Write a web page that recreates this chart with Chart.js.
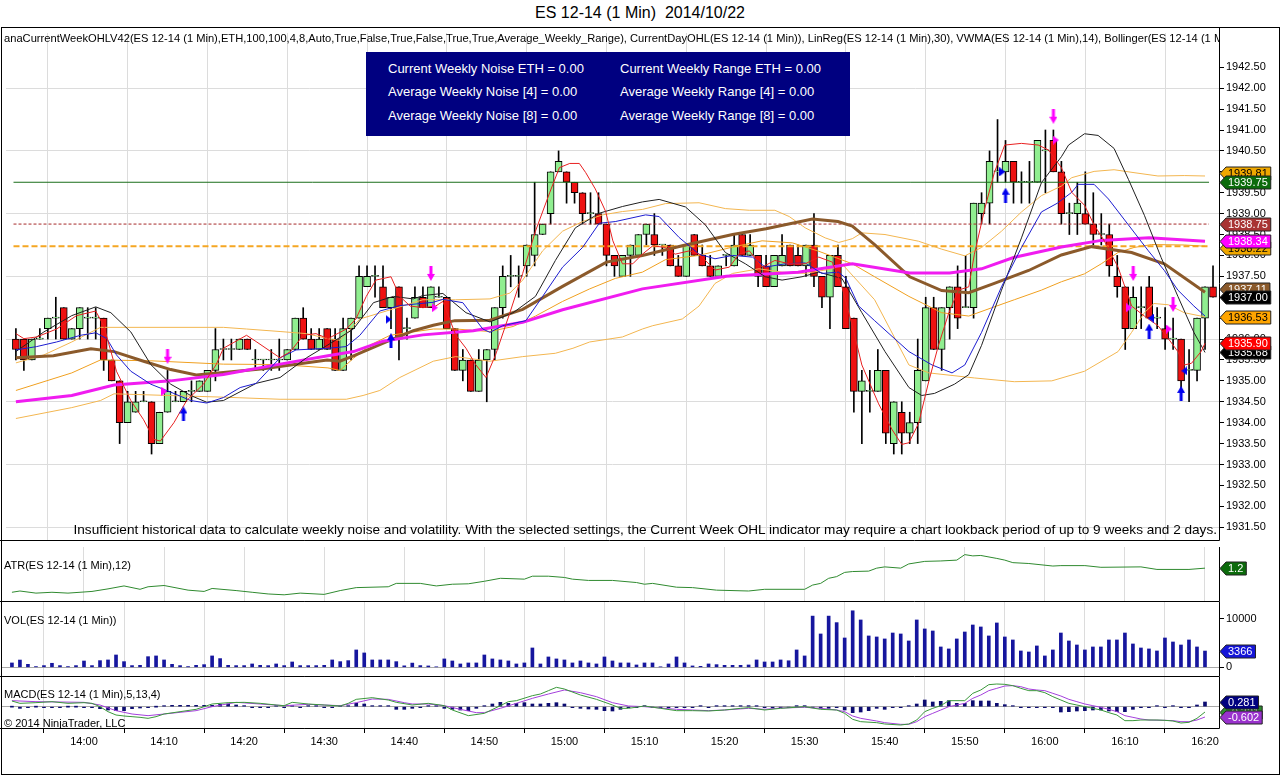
<!DOCTYPE html>
<html>
<head>
<meta charset="utf-8">
<title>ES 12-14 (1 Min) 2014/10/22</title>
<script src="https://cdn.jsdelivr.net/npm/chart.js@4.4.0/dist/chart.umd.min.js"></script>
<style>
  html, body { margin: 0; padding: 0; background: #fff; }
  body { width: 1280px; height: 775px; position: relative; overflow: hidden;
         font-family: "Liberation Sans", Arial, sans-serif; color: #000; }
  canvas { position: absolute; left: 0; }
  .txt { position: absolute; white-space: pre; font-size: 11px; line-height: 14px; }
  #frame { position: absolute; left: 1px; top: 27px; width: 1279px; height: 748px;
           box-sizing: border-box; border: 1px solid #000; }
  #title { left: 0; top: 4px; width: 1280px; text-align: center; font-size: 16px; line-height: 18px; }
  #studies { left: 4px; top: 31px; width: 1215px; overflow: hidden; font-size: 11.15px; }
  #navy { position: absolute; left: 366px; top: 52px; width: 484px; height: 84px; background: #000080; }
  #navy .txt { color: #fff; font-size: 13px; line-height: 16px; }
  #insufficient { right: 63px; top: 522px; font-size: 13.6px; line-height: 16px; }
</style>
</head>
<body>
<div id="frame"></div>
<canvas id="main" width="1280" height="520" style="top:27px"></canvas>
<canvas id="atr" width="1280" height="55" style="top:547px"></canvas>
<canvas id="vol" width="1280" height="75" style="top:602px"></canvas>
<canvas id="macd" width="1280" height="98" style="top:677px"></canvas>

<div class="txt" id="title">ES 12-14 (1 Min)  2014/10/22</div>
<div class="txt" id="studies">anaCurrentWeekOHLV42(ES 12-14 (1 Min),ETH,100,100,4,8,Auto,True,False,True,False,True,True,Average_Weekly_Range), CurrentDayOHL(ES 12-14 (1 Min)), LinReg(ES 12-14 (1 Min),30), VWMA(ES 12-14 (1 Min),14), Bollinger(ES 12-14 (1 Min),2,14)</div>
<div id="navy">
  <div class="txt" style="left:22px;top:9px">Current Weekly Noise ETH = 0.00</div>
  <div class="txt" style="left:254px;top:9px">Current Weekly Range ETH = 0.00</div>
  <div class="txt" style="left:22px;top:32px">Average Weekly Noise [4] = 0.00</div>
  <div class="txt" style="left:254px;top:32px">Average Weekly Range [4] = 0.00</div>
  <div class="txt" style="left:22px;top:56px">Average Weekly Noise [8] = 0.00</div>
  <div class="txt" style="left:254px;top:56px">Average Weekly Range [8] = 0.00</div>
</div>
<div class="txt" id="insufficient">Insufficient historical data to calculate weekly noise and volatility. With the selected settings, the Current Week OHL indicator may require a chart lookback period of up to 9 weeks and 2 days.</div>
<div class="txt" style="left:4px;top:558px">ATR(ES 12-14 (1 Min),12)</div>
<div class="txt" style="left:4px;top:613px">VOL(ES 12-14 (1 Min))</div>
<div class="txt" style="left:4px;top:687px">MACD(ES 12-14 (1 Min),5,13,4)</div>
<div class="txt" style="left:4px;top:716px">© 2014 NinjaTrader, LLC</div>

<script>
// ---- data (minutes relative to 14:00, first bar is 13:51) ----
const firstMinute = -9;

const opens = [
  1936.0, 1936.0, 1935.5, 1936.0, 1936.25, 1936.5, 1936.75, 1936.0, 1936.25,
  1936.5, 1936.5, 1936.5, 1935.5, 1935.0, 1934.0, 1934.25, 1934.5, 1934.5, 1933.5,
  1934.25, 1934.5, 1934.5, 1934.75, 1934.75, 1934.75, 1935.25, 1935.75, 1935.75, 1935.75,
  1936.0, 1935.5, 1935.5, 1935.5, 1935.5, 1935.5, 1935.75, 1936.5, 1936.0, 1935.75,
  1936.25, 1936.0, 1935.25, 1936.25, 1936.5, 1937.25, 1937.5, 1937.25, 1936.75, 1937.25,
  1936.25, 1936.5, 1937.0, 1936.75, 1937.0, 1937.0, 1936.25, 1935.25, 1935.5, 1934.75,
  1935.5, 1935.75, 1936.75, 1937.5, 1937.5, 1937.75, 1938.0, 1938.5, 1939.0, 1940.0,
  1940.0, 1939.75, 1939.5, 1939.0, 1939.0, 1938.75, 1938.0, 1937.5, 1938.0, 1938.0,
  1938.5, 1938.5, 1938.25, 1938.25, 1937.75, 1937.5, 1938.5, 1938.0, 1937.75, 1937.5,
  1938.0, 1937.75, 1938.5, 1938.0, 1938.0, 1937.75, 1937.25, 1937.75, 1938.25, 1938.0,
  1937.75, 1938.25, 1937.5, 1937.0, 1938.0, 1937.25, 1936.5, 1934.75, 1934.75, 1934.75,
  1935.25, 1933.5, 1934.25, 1933.75, 1934.0, 1935.0, 1936.75, 1935.75, 1936.75, 1937.25,
  1936.75, 1936.75, 1939.0, 1939.25, 1940.0, 1940.0, 1940.25, 1939.75, 1939.75, 1939.75,
  1940.5, 1940.75, 1940.0, 1939.0, 1939.0, 1939.0, 1938.75, 1938.5, 1938.5, 1937.5,
  1937.25, 1936.25, 1936.75, 1937.25, 1936.5, 1936.25, 1936.0, 1936.0, 1935.25, 1935.25,
  1936.5, 1937.25
];
const highs = [
  1936.25, 1936.0, 1936.0, 1936.25, 1936.5, 1937.0, 1936.75, 1936.25, 1936.75,
  1936.75, 1936.75, 1936.5, 1935.5, 1935.0, 1934.75, 1934.75, 1934.75, 1934.5, 1934.25,
  1935.25, 1934.75, 1934.75, 1935.0, 1935.0, 1935.25, 1936.25, 1936.0, 1936.0, 1936.0,
  1936.0, 1935.75, 1935.5, 1935.75, 1936.0, 1935.75, 1936.5, 1936.75, 1936.25, 1936.25,
  1936.25, 1936.25, 1936.5, 1936.5, 1937.75, 1937.75, 1937.75, 1937.75, 1937.0, 1937.25,
  1936.5, 1937.25, 1937.25, 1937.25, 1937.25, 1937.0, 1936.25, 1935.75, 1935.5, 1935.75,
  1935.75, 1936.75, 1937.75, 1938.0, 1937.75, 1938.25, 1939.75, 1938.75, 1940.0, 1940.5,
  1940.0, 1939.75, 1939.5, 1939.5, 1939.5, 1938.75, 1938.0, 1938.0, 1938.25, 1938.5,
  1938.75, 1939.0, 1938.25, 1938.25, 1938.0, 1938.25, 1938.5, 1938.25, 1938.0, 1937.75,
  1938.0, 1938.5, 1938.5, 1938.5, 1938.0, 1938.0, 1938.0, 1938.5, 1938.25, 1938.25,
  1938.25, 1939.0, 1937.5, 1938.0, 1938.25, 1937.5, 1936.5, 1935.25, 1935.25, 1935.75,
  1935.25, 1934.5, 1934.5, 1934.25, 1936.0, 1937.0, 1937.0, 1936.75, 1937.25, 1937.75,
  1938.0, 1939.25, 1939.5, 1940.5, 1941.25, 1940.75, 1940.25, 1940.0, 1940.25, 1940.75,
  1941.0, 1941.0, 1940.25, 1939.25, 1939.75, 1940.0, 1939.5, 1939.0, 1938.75, 1938.0,
  1937.25, 1937.25, 1937.25, 1937.5, 1936.75, 1936.75, 1936.5, 1936.0, 1935.75, 1936.5,
  1937.25, 1937.75
];
const lows = [
  1935.5, 1935.25, 1935.5, 1936.0, 1936.0, 1936.0, 1936.0, 1936.0, 1936.0,
  1936.0, 1936.0, 1935.25, 1935.0, 1933.5, 1934.0, 1934.25, 1934.5, 1933.25, 1933.5,
  1934.25, 1934.5, 1934.5, 1934.5, 1934.75, 1934.75, 1935.0, 1935.5, 1935.5, 1935.75,
  1935.75, 1935.25, 1935.25, 1935.25, 1935.25, 1935.5, 1935.75, 1936.0, 1935.75, 1935.75,
  1935.75, 1935.25, 1935.25, 1935.5, 1936.5, 1937.25, 1937.0, 1936.75, 1936.25, 1935.5,
  1936.0, 1936.5, 1936.75, 1936.75, 1937.0, 1936.25, 1935.25, 1935.0, 1934.75, 1934.75,
  1934.5, 1935.5, 1936.5, 1937.25, 1937.0, 1937.5, 1937.75, 1938.5, 1938.75, 1940.0,
  1939.25, 1939.25, 1938.75, 1938.75, 1938.75, 1937.75, 1937.5, 1937.5, 1937.5, 1938.0,
  1938.25, 1938.0, 1938.0, 1937.75, 1937.5, 1937.5, 1938.0, 1937.75, 1937.5, 1937.5,
  1937.75, 1937.75, 1938.0, 1938.0, 1937.25, 1937.25, 1937.25, 1937.75, 1937.75, 1937.75,
  1937.5, 1937.25, 1936.75, 1936.25, 1937.25, 1936.25, 1934.25, 1933.5, 1934.25, 1934.75,
  1933.5, 1933.25, 1933.25, 1933.5, 1933.5, 1935.0, 1935.75, 1935.25, 1936.0, 1936.25,
  1936.75, 1936.5, 1938.75, 1938.75, 1939.75, 1939.75, 1939.25, 1939.25, 1939.25, 1939.75,
  1939.5, 1940.0, 1938.75, 1938.5, 1938.5, 1938.75, 1938.25, 1938.25, 1937.5, 1937.0,
  1935.75, 1936.25, 1936.25, 1936.5, 1936.25, 1935.75, 1935.75, 1934.75, 1934.5, 1935.0,
  1935.75, 1937.0
];
const closes = [
  1935.75, 1935.5, 1936.0, 1936.0, 1936.5, 1936.5, 1936.0, 1936.25, 1936.75,
  1936.5, 1936.5, 1935.5, 1935.0, 1934.0, 1934.5, 1934.5, 1934.5, 1933.5, 1934.25,
  1934.75, 1934.5, 1934.75, 1934.75, 1935.0, 1935.25, 1935.75, 1935.75, 1935.75, 1936.0,
  1935.75, 1935.5, 1935.5, 1935.5, 1935.5, 1935.75, 1936.5, 1936.0, 1935.75, 1936.0,
  1935.75, 1935.25, 1936.25, 1936.5, 1937.5, 1937.5, 1937.5, 1936.75, 1937.0, 1936.0,
  1936.25, 1937.0, 1936.75, 1937.25, 1937.0, 1936.25, 1935.25, 1935.5, 1934.75, 1935.5,
  1935.75, 1936.75, 1937.5, 1937.5, 1937.5, 1938.25, 1938.5, 1938.75, 1940.0, 1940.25,
  1939.75, 1939.5, 1939.0, 1939.0, 1938.75, 1938.0, 1937.75, 1938.0, 1938.25, 1938.5,
  1938.75, 1938.25, 1938.25, 1937.75, 1937.5, 1938.25, 1938.0, 1937.75, 1937.5, 1937.75,
  1938.0, 1938.25, 1938.0, 1938.25, 1937.5, 1937.25, 1938.0, 1938.0, 1937.75, 1937.75,
  1938.25, 1937.5, 1937.0, 1938.0, 1937.25, 1936.25, 1934.75, 1935.0, 1934.75, 1935.25,
  1933.75, 1934.5, 1933.75, 1934.0, 1935.25, 1936.75, 1935.75, 1936.75, 1937.25, 1936.5,
  1936.75, 1939.25, 1939.25, 1940.25, 1940.0, 1940.25, 1939.75, 1939.75, 1939.75, 1940.75,
  1940.5, 1940.0, 1939.0, 1939.0, 1939.25, 1938.75, 1938.5, 1938.5, 1937.75, 1937.25,
  1936.25, 1937.0, 1936.75, 1936.5, 1936.5, 1936.0, 1936.0, 1935.0, 1935.25, 1936.5,
  1937.25, 1937.0
];

// indicator plots, [minute, value]
const linRegLine = [[-9,1936.13],[-8,1936.01],[-6.4,1936.05],[-3.9,1936.24],[-1.4,1936.56],[1,1936.67],[2,1936.32],[3.6,1935.23],[5.4,1934.53],[7,1934.07],[8.3,1933.6],[9.1,1933.56],[10.8,1934.0],[12.4,1934.53],[14.5,1934.92],[16.1,1935.39],[17,1935.78],[19.9,1936.09],[21.1,1935.94],[24.1,1935.55],[25.4,1935.7],[27,1936.09],[28.6,1936.13],[30.1,1936.01],[32.4,1936.24],[33.6,1936.48],[34.9,1937.02],[36.1,1937.41],[38,1937.49],[39.1,1937.02],[40.4,1936.79],[42,1936.75],[43.6,1936.79],[44.5,1936.9],[46.1,1936.1],[47.4,1935.78],[48.6,1935.39],[49.9,1935.08],[51.1,1935.62],[52.9,1936.63],[54.5,1937.57],[56.1,1938.58],[57.9,1939.51],[59.1,1940.1],[60.4,1940.2],[61.6,1940.2],[62.4,1939.98],[63.6,1939.59],[64.9,1939.05],[65.8,1938.35],[67,1937.8],[68.3,1937.8],[69.5,1938.03],[70.8,1938.23],[72.4,1938.19],[73.6,1938.03],[75.4,1938.11],[76.6,1938.03],[78.6,1937.65],[80.4,1937.72],[81.6,1938.03],[82.9,1938.11],[84.5,1937.72],[86.1,1937.88],[87.9,1937.8],[89.9,1937.8],[91.6,1937.96],[93.3,1937.84],[94.5,1937.25],[95.8,1936.32],[97,1935.38],[99.1,1934.45],[100.8,1933.83],[102,1933.48],[102.9,1933.52],[104.1,1933.98],[105.4,1935.0],[106.6,1935.85],[107.9,1936.63],[109.1,1937.17],[110.4,1937.25],[111.1,1938.03],[112.4,1939.12],[113.6,1939.98],[114.9,1940.64],[117,1940.68],[119.1,1940.64],[120.4,1940.52],[122,1940.1],[123.3,1939.51],[124.9,1939.2],[126.1,1938.73],[127.4,1938.34],[129.1,1937.72],[130.8,1936.79],[132.4,1936.55],[134.1,1936.32],[135.4,1936.01],[136.6,1935.7],[137.4,1935.38],[138.3,1935.42],[139.5,1935.7],[140,1935.9]];
const vwmaLine = [[-9,1935.74],[-6.4,1935.82],[-3.9,1935.93],[-0.9,1936.09],[1,1936.15],[2.4,1936.01],[3.6,1935.62],[5.4,1935.23],[7.9,1934.92],[10.4,1934.73],[12.9,1934.53],[14.9,1934.47],[17,1934.6],[19.1,1934.84],[21.1,1934.94],[24.1,1935.55],[26.1,1935.74],[30.1,1935.78],[32.4,1935.82],[34.1,1936.09],[36.6,1936.67],[39.1,1936.8],[43.3,1936.88],[44.5,1936.95],[47,1936.87],[49.5,1936.24],[50.4,1936.16],[52,1936.32],[54.9,1936.44],[57,1937.02],[59.5,1937.72],[62,1938.19],[64.1,1938.77],[66.1,1938.81],[69.9,1938.97],[71.6,1938.93],[74.1,1938.43],[76.6,1938.03],[78.6,1937.92],[80.8,1938.0],[83.3,1937.96],[84.9,1937.72],[87.4,1937.8],[89.9,1937.82],[92,1937.57],[94.1,1937.6],[95,1937.45],[96.6,1936.79],[98.6,1936.44],[102.9,1935.7],[105.8,1935.38],[108.3,1935.19],[109.9,1935.38],[112,1936.16],[114.5,1937.25],[117,1938.19],[119.5,1939.04],[121.5,1939.25],[123.3,1939.51],[124.1,1939.7],[126.1,1939.7],[127.9,1939.35],[130.4,1938.73],[132.9,1938.11],[134.9,1937.64],[136.6,1937.17],[138.6,1936.79],[140,1936.55]];
const blackLine = [[-9,1935.7],[-5.5,1936.17],[-2,1936.56],[1,1936.77],[2.9,1936.63],[5.4,1936.17],[7.9,1935.39],[10.4,1934.92],[12.9,1934.65],[14.9,1934.49],[17,1934.53],[21.1,1934.94],[24.1,1935.08],[27.4,1935.55],[30.1,1935.86],[33.3,1936.24],[35.8,1936.87],[38.3,1937.02],[40.8,1936.96],[42,1937.04],[44.5,1937.09],[47.4,1936.63],[50.4,1936.41],[53.3,1936.63],[56.1,1937.02],[58.6,1937.88],[61.1,1938.66],[64.1,1939.01],[67,1939.17],[69.5,1939.28],[71.6,1939.34],[74.9,1939.16],[77.4,1938.73],[79.9,1938.07],[82.4,1937.8],[84.9,1937.49],[87,1937.41],[89.5,1937.49],[91.6,1937.6],[94.5,1937.45],[97,1936.63],[99.9,1935.7],[102.9,1934.84],[104.5,1934.65],[106.1,1934.7],[108.6,1934.92],[110.4,1935.15],[112,1935.85],[114.5,1937.17],[117,1938.42],[119.5,1939.74],[122,1940.36],[122.9,1940.64],[124.9,1940.91],[126.6,1940.87],[128.6,1940.56],[130.4,1939.82],[132.4,1938.96],[134.5,1937.95],[136.6,1937.02],[138.6,1936.16],[140,1935.68]];
const brownLine = [[-9,1935.55],[-4.3,1935.6],[0.4,1935.77],[3.3,1935.7],[7,1935.47],[10.4,1935.27],[13.6,1935.14],[17,1935.2],[22,1935.29],[30,1935.5],[31.6,1935.47],[33.3,1935.6],[37.4,1935.93],[40.8,1936.2],[43.3,1936.33],[46,1936.44],[50.4,1936.45],[54.5,1936.71],[59.5,1937.26],[65,1937.84],[69.5,1938.0],[74.5,1938.23],[80.8,1938.5],[85,1938.64],[90.8,1938.87],[94,1938.81],[95.8,1938.7],[98.6,1938.26],[103,1937.49],[107,1937.16],[110.4,1937.11],[113.6,1937.33],[117.9,1937.64],[122,1938.01],[125.8,1938.21],[130.8,1938.07],[134.9,1937.8],[140,1937.12]];
const magentaLine = [[-9,1934.5],[-2,1934.65],[3.3,1934.9],[10.4,1935.0],[17,1935.15],[24.1,1935.4],[30.1,1935.6],[33.3,1935.7],[37,1935.95],[42,1936.1],[48.3,1936.2],[54.5,1936.4],[59.5,1936.7],[69.5,1937.2],[80,1937.5],[89,1937.6],[95.8,1937.8],[103,1937.58],[108,1937.58],[112,1937.68],[116,1937.95],[122,1938.2],[127,1938.36],[133,1938.42],[140,1938.34]];
const bandUpper = [[-9,1935.43],[-5.5,1935.62],[-2,1935.93],[1.6,1936.28],[17,1936.28],[19.9,1936.24],[24.1,1936.18],[27.4,1936.13],[30.1,1936.01],[31.6,1935.97],[34.1,1936.48],[37.4,1936.67],[42,1936.94],[46.1,1936.94],[50.4,1936.96],[52.9,1937.1],[54.5,1937.41],[57,1938.11],[59.5,1938.58],[62,1938.81],[64.5,1938.97],[67,1939.05],[69.5,1939.1],[72.4,1939.24],[76.6,1939.26],[79.9,1939.12],[82.9,1939.08],[86.1,1939.08],[87.9,1938.93],[89.9,1938.66],[92.4,1938.42],[94.1,1938.31],[95.8,1938.4],[97,1938.54],[99.9,1938.5],[104.1,1938.34],[107,1938.15],[109.9,1937.99],[112,1938.19],[114.5,1938.58],[117,1939.04],[119.5,1939.43],[122,1939.66],[123.3,1939.86],[126.1,1940.01],[128.6,1940.05],[131.1,1939.98],[134.1,1939.9],[137.4,1939.91],[140,1939.9]];
const bandMiddle = [[-9,1934.77],[-2,1935.19],[1.6,1935.5],[7.9,1935.48],[17,1935.4],[24.1,1935.39],[30.1,1935.31],[31.6,1935.25],[33.3,1935.54],[35.4,1935.86],[37.9,1936.09],[43.3,1936.24],[46.1,1936.24],[50.4,1936.18],[53.3,1936.3],[56.1,1936.55],[59.5,1936.9],[62.9,1937.2],[66.1,1937.45],[69.5,1937.6],[72.4,1937.9],[76.6,1938.0],[80.8,1938.2],[84.5,1938.35],[88.3,1938.3],[91.6,1938.1],[95.8,1937.8],[98.6,1937.49],[102.9,1937.02],[107,1936.63],[110.4,1936.55],[113.3,1936.75],[116.1,1936.94],[119.5,1937.17],[122,1937.37],[124.9,1937.56],[127,1937.8],[129.1,1938.07],[131.1,1938.19],[133.3,1938.26],[137.4,1938.25],[140,1938.22]];
const bandLower = [[-9,1934.1],[-2,1934.36],[1.6,1934.53],[3.3,1934.69],[17,1934.61],[24.1,1934.56],[32.4,1934.56],[34.5,1934.65],[36.6,1934.77],[39.1,1935.08],[43.3,1935.47],[46.1,1935.58],[50.4,1935.47],[54.5,1935.58],[58.6,1935.66],[60.8,1935.78],[62.9,1935.93],[67,1936.05],[69.5,1936.24],[70.8,1936.32],[74.5,1936.48],[76.6,1936.79],[78.6,1937.33],[80.8,1937.57],[84.1,1937.68],[87,1937.6],[89.9,1937.57],[93.3,1937.68],[94.5,1937.8],[98.6,1936.94],[102.9,1935.38],[105.4,1935.19],[111.1,1935.07],[116.1,1934.98],[120.8,1935.0],[124.9,1935.23],[129.1,1935.7],[130.8,1936.16],[132.4,1936.63],[133.6,1936.85],[135.4,1936.82],[137.4,1936.63],[140,1936.53]];

// weekly / daily levels
const levelWeekHigh = 1939.75;
const levelDayOpen = 1938.75;
const levelAverage = 1938.22;
const levelSpan = [-9.3, 140.5];

// signal arrows, [minute, price]
const downArrows = [[10,1935.59],[43,1937.57],[121,1941.33],[131,1937.57],[136,1936.83]];
const upArrows = [[12,1934.21],[38,1935.96],[115,1939.44],[133,1936.19],[137,1934.7]];
const magentaMarks = [[9.6,1934.75],[43.5,1936.75],[121.3,1940.76],[130.5,1936.75],[135.5,1936.24]];
const blueMarksRight = [[37.7,1936.47],[114.6,1940.0]];
const blueMarksLeft = [[133.2,1936.5],[137.4,1935.24]];

// lower panels, one value per bar from 13:51 to 16:20
const volumes = [
  900, 1500, 620, 150, 350, 830, 350, 150, 350,
  1300, 350, 1380, 1520, 2550, 1170, 350, 410, 2200, 2350,
  1520, 620, 350, 150, 410, 550, 2350, 1800, 410, 350,
  350, 690, 410, 350, 690, 350, 1100, 350, 350, 350,
  410, 1520, 1170, 1380, 3590, 2970, 1520, 1520, 1520, 1170,
  300, 870, 350, 280, 100, 1730, 1310, 690, 900, 900,
  2550, 1730, 1520, 1310, 690, 900, 4000, 690, 2140, 1730,
  1520, 900, 1310, 900, 690, 2140, 1310, 900, 900, 480,
  900, 900, 100, 690, 2140, 900, 280, 200, 690, 550,
  410, 410, 410, 480, 1520, 1100, 1100, 1520, 1350, 3590,
  2350, 10600, 6900, 10600, 9250, 6070, 11700, 9800, 6490, 6280,
  5870, 7100, 6900, 5450, 9800, 7940, 7520, 4210, 3800, 5870,
  7310, 8760, 8350, 6490, 9180, 6280, 5660, 3380, 3170, 4420,
  2350, 3590, 7100, 5450, 4620, 3590, 4210, 4210, 5660, 5660,
  7100, 4830, 4000, 3800, 3380, 6070, 5240, 4620, 5660, 4210,
  3366
];
const macdDiff = [
  0, -0.1, -0.04, 0, -0.05, -0.05, -0.05, 0, 0,
  -0.03, -0.04, -0.12, -0.2, -0.24, -0.24, -0.12, -0.08, -0.04, 0,
  0.06, 0.08, 0.08, 0.08, 0.08, 0.08, 0.08, 0.14, 0.16, 0.1,
  0.03, -0.03, -0.03, -0.03, 0.03, -0.03, 0.05, -0.03, 0.03, 0.03,
  -0.04, -0.04, 0.03, 0.05, 0.2, 0.16, 0.06, 0.03, 0.03, -0.16,
  -0.16, -0.1, -0.05, 0.03, 0.03, -0.1, -0.16, -0.2, -0.24, -0.1,
  0.03, 0.16, 0.26, 0.2, 0.2, 0.24, 0.16, 0.16, 0.2, 0.24,
  0.16, -0.04, -0.1, -0.14, -0.16, -0.24, -0.26, -0.16, -0.06, -0.03,
  0.03, -0.03, -0.03, -0.03, -0.06, -0.03, -0.03, 0.03, -0.04, 0.03,
  0.04, 0.04, 0.06, 0.06, 0.04, -0.03, -0.06, -0.03, -0.04, 0.03,
  0.06, -0.03, -0.1, -0.1, -0.04, -0.2, -0.36, -0.32, -0.24, -0.1,
  -0.16, -0.06, -0.06, 0.03, 0.16, 0.4, 0.28, 0.32, 0.36, 0.2,
  0.2, 0.36, 0.34, 0.34, 0.2, 0.12, 0.03, -0.06, -0.06, -0.04,
  -0.04, -0.06, -0.32, -0.3, -0.26, -0.24, -0.2, -0.2, -0.26, -0.3,
  -0.3, -0.16, -0.04, -0.04, 0.03, -0.06, 0.03, -0.06, -0.06, 0.1,
  0.28
];
const atrLine = [[-9,0.63],[-8,0.66],[-6,0.61],[-4,0.63],[-2,0.61],[1,0.65],[3,0.71],[5,0.78],[7,0.7],[8,0.76],[10,0.79],[13,0.68],[15,0.65],[16,0.72],[19,0.67],[21,0.63],[23,0.59],[25,0.57],[27,0.61],[30,0.58],[32,0.67],[34,0.74],[38,0.76],[39,0.84],[42,0.84],[44,0.78],[46,0.82],[48,0.83],[50,0.89],[52,0.96],[55,0.94],[56,1.01],[58,1.01],[60,0.98],[61,0.94],[63,0.91],[66,0.91],[69,0.86],[70,0.82],[71,0.84],[74,0.75],[76,0.74],[79,0.68],[83,0.66],[85,0.7],[90,0.7],[91,0.8],[92,0.84],[93,0.96],[94,1.0],[95,1.1],[96,1.12],[98,1.13],[99,1.2],[100,1.23],[102,1.2],[103,1.3],[105,1.36],[107,1.37],[109,1.39],[110,1.52],[111,1.49],[112,1.5],[114,1.43],[115,1.39],[116,1.33],[118,1.31],[121,1.25],[122,1.26],[125,1.26],[127,1.22],[132,1.23],[134,1.17],[138,1.17],[140,1.2]];
const macdLine = [[-9,0.34],[-8,0.2],[-6,0.24],[-4,0.3],[-2,0.2],[0,0.24],[1,0.2],[2,0],[3,-0.3],[4,-0.5],[5,-0.56],[6,-0.6],[7,-0.64],[8,-0.7],[9,-0.6],[10,-0.44],[12,-0.3],[14,-0.16],[16,0.16],[18,0.24],[20,0.26],[22,0.2],[24,0.1],[25,0.06],[26,0.26],[28,0.16],[30,0.1],[32,0.04],[33,0.2],[34,0.44],[36,0.54],[38,0.4],[39,0.26],[41,0.1],[43,0.2],[45,0.06],[46,-0.2],[48,-0.54],[50,-0.4],[52,0.06],[53,0.3],[54,0.36],[56,0.66],[57,0.76],[58,0.96],[59,1.16],[60,1.06],[62,0.7],[64,0.44],[66,0.1],[67,-0.1],[68,-0.1],[70,0.04],[72,-0.1],[74,-0.24],[76,-0.24],[78,-0.26],[80,-0.2],[82,-0.1],[83,-0.06],[85,-0.2],[87,-0.1],[90,0],[92,-0.16],[94,-0.2],[95,-0.4],[96,-0.76],[97,-0.9],[99,-0.96],[100,-1.04],[102,-1.1],[103,-1.04],[104,-0.8],[105,-0.3],[106,-0.1],[107,0.06],[108,0.36],[110,0.36],[111,0.8],[112,1.0],[113,1.32],[114,1.36],[115,1.34],[116,1.26],[117,1.1],[118,0.96],[119,0.96],[120,0.84],[121,0.6],[122,0.4],[123,0.2],[124,0.1],[125,0],[126,-0.1],[127,-0.2],[128,-0.36],[129,-0.5],[130,-0.84],[131,-0.84],[132,-0.8],[134,-0.8],[135,-0.82],[136,-0.86],[137,-0.98],[138,-0.94],[139,-0.7],[140,-0.32]];
const macdAvg = [[-9,0.36],[-6,0.3],[0,0.26],[2,0.1],[4,-0.24],[6,-0.44],[8,-0.54],[10,-0.44],[12,-0.34],[14,-0.24],[16,0],[19,0.26],[22,0.16],[25,0.06],[28,0.14],[32,0.06],[34,0.24],[36,0.46],[38,0.44],[40,0.24],[41,0.16],[43,0.16],[45,0.06],[47,-0.16],[49,-0.36],[50,-0.36],[52,-0.1],[54,0.2],[56,0.5],[58,0.76],[60,1.0],[62,0.84],[64,0.6],[66,0.24],[68,0.04],[70,0],[74,-0.16],[78,-0.24],[80,-0.2],[83,-0.1],[85,-0.16],[87,-0.08],[90,-0.04],[92,-0.1],[94,-0.2],[95,-0.3],[96,-0.56],[97,-0.7],[99,-0.86],[100,-0.96],[102,-1.06],[103,-1.06],[104,-0.9],[105,-0.6],[106,-0.4],[107,-0.2],[108,0],[109,0.1],[110,0.2],[111,0.5],[112,0.7],[113,0.96],[114,1.1],[115,1.24],[116,1.26],[117,1.2],[118,1.06],[119,1.0],[120,0.96],[121,0.8],[122,0.64],[123,0.44],[124,0.3],[125,0.16],[126,0.06],[127,-0.04],[128,-0.16],[129,-0.3],[130,-0.54],[131,-0.64],[132,-0.74],[133,-0.8],[135,-0.82],[136,-0.84],[137,-0.9],[138,-0.9],[139,-0.8],[140,-0.62]];

// axis ticks
const timeTicks = [0, 10, 20, 30, 40, 50, 60, 70, 80, 90, 100, 110, 120, 130, 140];
const timeLabels = ['14:00','14:10','14:20','14:30','14:40','14:50','15:00','15:10','15:20','15:30','15:40','15:50','16:00','16:10','16:20'];
const priceTicks = [1931.5, 1932, 1932.5, 1933, 1933.5, 1934, 1934.5, 1935, 1935.5, 1936, 1936.5, 1937,
                    1937.5, 1938, 1938.5, 1939, 1939.5, 1940, 1940.5, 1941, 1941.5, 1942, 1942.5];
const priceGrid = [1931.5, 1933, 1934.5, 1936, 1937.5, 1939, 1940.5, 1942];
const volTicks = [0, 10000];

// ---- drawing ----
const FONT = '"Liberation Sans", Arial, sans-serif';
const X_MIN = -10.24, X_MAX = 141.75;
const AXIS_W = 61;
const UP = '#90ee90', DOWN = '#ee1111', GRID = '#dcdcdc';

const barMinutes = opens.map((_, i) => firstMinute + i);
const pts = arr => arr.map(p => ({ x: p[0], y: p[1] }));

function xAxis(withLabels) {
  return {
    type: 'linear', min: X_MIN, max: X_MAX, offset: false,
    afterBuildTicks: s => { s.ticks = timeTicks.map(v => ({ value: v })); },
    grid: { color: GRID, drawTicks: withLabels, tickLength: 4, tickColor: '#000' },
    border: { display: false },
    ticks: {
      display: withLabels, autoSkip: false, maxRotation: 0, padding: 2, color: '#000',
      font: { family: FONT, size: 11 },
      callback: (v, i) => timeLabels[i]
    },
    afterFit: s => { s.height = withLabels ? 46 : 0; s.paddingLeft = 0; s.paddingRight = 0; }
  };
}

function fixWidth(s) { s.width = AXIS_W; s.paddingTop = 0; s.paddingBottom = 0; }

const panelFrame = {
  id: 'panelFrame',
  afterDraw(chart) {
    const { ctx, chartArea: a } = chart;
    const r = Math.round(a.right) + 0.5, b = Math.round(a.bottom) - 0.5;
    ctx.save();
    ctx.strokeStyle = '#000';
    ctx.lineWidth = 1;
    ctx.beginPath();
    ctx.moveTo(0, b); ctx.lineTo(r, b);
    ctx.moveTo(r, 0); ctx.lineTo(r, b);
    ctx.stroke();
    ctx.restore();
  }
};

function drawTag(ctx, x, y, text, fill, ink) {
  ctx.font = '11px ' + FONT;
  const w = ctx.measureText(text).width + 5;
  const h = 13;
  ctx.beginPath();
  ctx.moveTo(x, y);
  ctx.lineTo(x + 6, y - h / 2);
  ctx.lineTo(x + 6 + w, y - h / 2);
  ctx.lineTo(x + 6 + w, y + h / 2);
  ctx.lineTo(x + 6, y + h / 2);
  ctx.closePath();
  ctx.fillStyle = fill;
  ctx.fill();
  ctx.strokeStyle = '#222';
  ctx.lineWidth = 1;
  ctx.stroke();
  ctx.fillStyle = ink;
  ctx.textAlign = 'left';
  ctx.textBaseline = 'middle';
  ctx.fillText(text, x + 8, y + 0.5);
}

const sideTags = {
  id: 'sideTags',
  afterDraw(chart, args, opts) {
    const y = chart.scales.y;
    const x0 = Math.round(chart.chartArea.right) + 1;
    chart.ctx.save();
    (opts.items || []).forEach(t => {
      drawTag(chart.ctx, x0, Math.round(y.getPixelForValue(Number(t.text))) + (t.dy || 0) + 0.5, t.text, t.fill, t.ink);
    });
    chart.ctx.restore();
  }
};

function arrowImage(color, down) {
  const c = document.createElement('canvas');
  c.width = 8; c.height = 15;
  const g = c.getContext('2d');
  g.fillStyle = color;
  g.beginPath();
  if (down) {
    g.moveTo(2.5, 0); g.lineTo(5.5, 0); g.lineTo(5.5, 8); g.lineTo(8, 8);
    g.lineTo(4, 15); g.lineTo(0, 8); g.lineTo(2.5, 8);
  } else {
    g.moveTo(2.5, 15); g.lineTo(5.5, 15); g.lineTo(5.5, 7); g.lineTo(8, 7);
    g.lineTo(4, 0); g.lineTo(0, 7); g.lineTo(2.5, 7);
  }
  g.closePath();
  g.fill();
  return c;
}

function triImage(color, right) {
  const c = document.createElement('canvas');
  c.width = 6; c.height = 9;
  const g = c.getContext('2d');
  g.fillStyle = color;
  g.beginPath();
  if (right) { g.moveTo(0, 0); g.lineTo(6, 4.5); g.lineTo(0, 9); }
  else { g.moveTo(6, 0); g.lineTo(0, 4.5); g.lineTo(6, 9); }
  g.closePath();
  g.fill();
  return c;
}

function lineDs(points, color, width, order, extra) {
  return Object.assign({
    type: 'line', data: pts(points), borderColor: color, borderWidth: width,
    pointRadius: 0, tension: 0, fill: false, order: order
  }, extra || {});
}

function levelDs(value, color, width, dash) {
  return lineDs([[levelSpan[0], value], [levelSpan[1], value]], color, width, 4, { borderDash: dash });
}

function markDs(points, image) {
  return { type: 'scatter', data: pts(points), pointStyle: image, pointRadius: 5, order: 0 };
}

const common = {
  responsive: false,
  animation: false,
  devicePixelRatio: 1,
  events: [],
  layout: { padding: { left: 2, right: 0, top: 0, bottom: 0 } },
  plugins: { legend: { display: false }, tooltip: { enabled: false } }
};

// main price panel
new Chart(document.getElementById('main'), {
  type: 'bar',
  data: {
    datasets: [
      markDs(downArrows, arrowImage('#ff00ff', true)),
      markDs(upArrows, arrowImage('#0000ee', false)),
      markDs(magentaMarks, triImage('#ff00ff', true)),
      markDs(blueMarksRight, triImage('#0000ee', true)),
      markDs(blueMarksLeft, triImage('#0000ee', false)),
      lineDs(linRegLine, '#e82020', 1, 1),
      lineDs(vwmaLine, '#1c1cd0', 1, 1),
      lineDs(blackLine, '#202020', 1, 1),
      lineDs(magentaLine, '#f01cf0', 3, 2),
      lineDs(brownLine, '#8b5a2b', 3, 2),
      lineDs(bandUpper, '#f3b650', 1, 3),
      lineDs(bandMiddle, '#f0a020', 1, 3),
      lineDs(bandLower, '#f3b650', 1, 3),
      levelDs(levelWeekHigh, '#1a6e1a', 1, []),
      levelDs(levelDayOpen, '#a52a2a', 1, [3, 2]),
      levelDs(levelAverage, '#f5a623', 2, [6, 3]),
      {
        type: 'bar', order: 5, grouped: false,
        data: barMinutes.map((m, i) => ({ x: m, y: [opens[i], closes[i]] })),
        backgroundColor: c => (closes[c.dataIndex] >= opens[c.dataIndex] ? UP : DOWN),
        borderColor: '#000', borderWidth: 1, borderSkipped: false,
        barThickness: 7, minBarLength: 1
      },
      {
        type: 'bar', order: 6, grouped: false,
        data: barMinutes.map((m, i) => ({ x: m, y: [lows[i], highs[i]] })),
        backgroundColor: '#000', borderWidth: 0, barThickness: 1
      }
    ]
  },
  options: Object.assign({}, common, {
    scales: {
      x: xAxis(false),
      y: {
        type: 'linear', position: 'right', min: 1931.17, max: 1943.32,
        afterBuildTicks: s => { s.ticks = priceTicks.map(v => ({ value: v })); },
        grid: {
          color: c => (c.tick && priceGrid.includes(c.tick.value) ? GRID : 'rgba(0,0,0,0)'),
          tickLength: 5, tickColor: '#000'
        },
        border: { display: false },
        ticks: { padding: 2, color: '#000', font: { family: FONT, size: 11 }, callback: v => v.toFixed(2) },
        afterFit: fixWidth
      }
    },
    plugins: Object.assign({}, common.plugins, {
      sideTags: {
        items: [
          { text: '1939.81', fill: '#f0a800', ink: '#000', dy: -7 },
          { text: '1939.75', fill: '#0b6b0b', ink: '#fff' },
          { text: '1938.75', fill: '#a83434', ink: '#fff' },
          { text: '1938.22', fill: '#f0a800', ink: '#000', dy: 2 },
          { text: '1938.34', fill: '#ff00ff', ink: '#fff' },
          { text: '1937.11', fill: '#8b5a2b', ink: '#fff', dy: -4 },
          { text: '1937.00', fill: '#000', ink: '#fff' },
          { text: '1936.53', fill: '#ffa500', ink: '#000' },
          { text: '1935.68', fill: '#000', ink: '#fff' },
          { text: '1935.90', fill: '#ff0000', ink: '#fff' }
        ]
      }
    })
  }),
  plugins: [panelFrame, sideTags]
});

// ATR panel
new Chart(document.getElementById('atr'), {
  type: 'line',
  data: { datasets: [lineDs(atrLine, '#2f8a2f', 1, 1)] },
  options: Object.assign({}, common, {
    scales: {
      x: xAxis(false),
      y: { type: 'linear', position: 'right', min: 0.4, max: 1.7,
           grid: { display: false }, border: { display: false }, ticks: { display: false }, afterFit: fixWidth }
    },
    plugins: Object.assign({}, common.plugins, {
      sideTags: { items: [{ text: '1.2', fill: '#0b6b0b', ink: '#fff' }] }
    })
  }),
  plugins: [panelFrame, sideTags]
});

// volume panel
new Chart(document.getElementById('vol'), {
  type: 'bar',
  data: {
    datasets: [{
      data: volumes.map((v, i) => ({ x: firstMinute + i, y: v })),
      backgroundColor: '#16169e', barThickness: 3, grouped: false
    }]
  },
  options: Object.assign({}, common, {
    scales: {
      x: xAxis(false),
      y: {
        type: 'linear', position: 'right', min: -2010, max: 13520,
        afterBuildTicks: s => { s.ticks = volTicks.map(v => ({ value: v })); },
        grid: { color: c => (c.tick && c.tick.value === 0 ? '#a8a8a8' : 'rgba(0,0,0,0)'), tickLength: 5, tickColor: '#000' },
        border: { display: false },
        ticks: { padding: 2, color: '#000', font: { family: FONT, size: 11 }, callback: v => String(v) },
        afterFit: fixWidth
      }
    },
    plugins: Object.assign({}, common.plugins, {
      sideTags: { items: [{ text: '3366', fill: '#1515d8', ink: '#fff' }] }
    })
  }),
  plugins: [panelFrame, sideTags]
});

// MACD panel with time axis
new Chart(document.getElementById('macd'), {
  type: 'bar',
  data: {
    datasets: [
      lineDs(macdLine, '#3a983a', 1, 1),
      lineDs(macdAvg, '#a440dc', 1, 2),
      {
        type: 'bar', order: 3, grouped: false,
        data: macdDiff.map((v, i) => ({ x: firstMinute + i, y: v })),
        backgroundColor: '#0c0c70', barThickness: 3, minBarLength: 1
      }
    ]
  },
  options: Object.assign({}, common, {
    scales: {
      x: xAxis(true),
      y: {
        type: 'linear', position: 'right', min: -1.34, max: 1.78,
        afterBuildTicks: s => { s.ticks = [{ value: 0 }]; },
        grid: { color: '#a8a8a8', drawTicks: false },
        border: { display: false },
        ticks: { display: false },
        afterFit: fixWidth
      }
    },
    plugins: Object.assign({}, common.plugins, {
      sideTags: {
        items: [
          { text: '-0.321', fill: '#2e8b2e', ink: '#fff' },
          { text: '0.281', fill: '#000080', ink: '#fff' },
          { text: '-0.602', fill: '#9932cc', ink: '#fff' }
        ]
      }
    })
  }),
  plugins: [panelFrame, sideTags]
});
</script>
</body>
</html>
